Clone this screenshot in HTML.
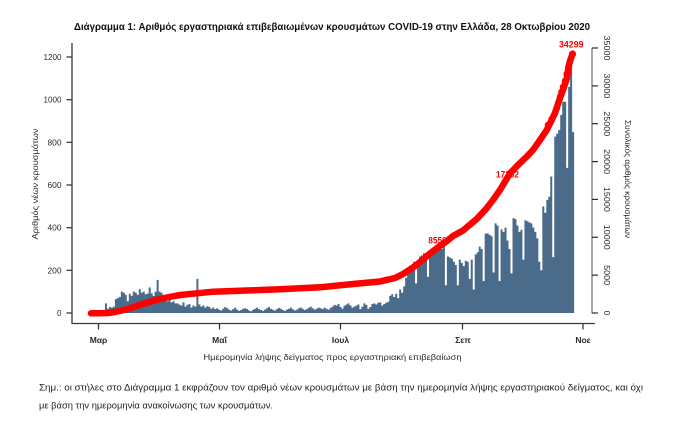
<!DOCTYPE html>
<html>
<head>
<meta charset="utf-8">
<style>
  html, body { margin: 0; padding: 0; background: #ffffff; }
  svg { display: block; }
  text { font-family: "Liberation Sans", "DejaVu Sans", sans-serif; }
</style>
</head>
<body>
<svg width="680" height="434" viewBox="0 0 680 434" xmlns="http://www.w3.org/2000/svg">
  <rect x="0" y="0" width="680" height="434" fill="#ffffff"/>

  <!-- Title -->
  <text x="74" y="30" font-size="10.5" font-weight="bold" fill="#111" textLength="516" lengthAdjust="spacingAndGlyphs">Διάγραμμα 1: Αριθμός εργαστηριακά επιβεβαιωμένων κρουσμάτων COVID-19 στην Ελλάδα, 28 Οκτωβρίου 2020</text>

  <!-- Bars (daily new cases) -->
  <g transform="translate(91.04,313) scale(1.988,-0.21333)">
    <path fill="#4b6b8a" d="M0,0V0H1V0H2V1H3V2H4V0H5V3H6V2H7V45H8V20H9V28H10V25H11V30H12V65H13V70H14V75H15V100H16V95H17V85H18V55H19V90H20V80H21V100H22V95H23V85H24V112H25V95H26V100H27V88H28V91H29V120H30V92H31V80H32V100H33V155H34V100H35V95H36V65H37V60H38V55H39V65H40V50H41V55H42V45H43V45H44V40H45V35H46V50H47V30H48V38H49V42H50V25H51V35H52V30H53V160H54V40H55V30H56V35H57V25H58V32H59V28H60V20H61V25H62V18H63V22H64V15H65V12H66V20H67V28H68V22H69V16H70V12H71V18H72V25H73V15H74V10H75V14H76V20H77V22H78V18H79V12H80V8H81V15H82V20H83V25H84V18H85V14H86V10H87V16H88V22H89V28H90V20H91V15H92V12H93V18H94V24H95V20H96V14H97V10H98V16H99V20H100V25H101V18H102V12H103V15H104V22H105V26H106V20H107V14H108V18H109V24H110V30H111V22H112V16H113V20H114V25H115V22H116V18H117V25H118V20H119V15H120V24H121V30H122V38H123V35H124V42H125V28H126V20H127V34H128V40H129V45H130V36H131V25H132V30H133V35H134V40H135V18H136V30H137V45H138V38H139V20H140V28H141V42H142V45H143V40H144V48H145V50H146V35H147V42H148V48H149V52H150V80H151V88H152V75H153V90H154V70H155V110H156V95H157V125H158V165H159V205H160V215H161V210H162V240H163V139H164V245H165V265H166V270H167V280H168V275H169V170H170V285H171V290H172V280H173V295H174V310H175V325H176V300H177V315H178V130H179V265H180V260H181V255H182V240H183V225H184V130H185V250H186V235H187V220H188V245H189V240H190V160H191V250H192V110H193V275H194V285H195V311H196V300H197V150H198V372H199V373H200V367H201V360H202V190H203V420H204V410H205V150H206V392H207V380H208V400H209V340H210V300H211V186H212V445H213V440H214V410H215V380H216V390H217V250H218V435H219V430H220V425H221V420H222V400H223V380H224V350H225V240H226V200H227V500H228V470H229V530H230V545H231V640H232V262H233V827H234V841H235V858H236V928H237V990H238V990H239V680H240V1060H241V1186H242V848H243V0Z"/>
  </g>

  <!-- Left axis -->
  <g stroke="#3a3a3a" stroke-width="1.3" fill="none">
    <line x1="72" y1="43" x2="72" y2="324"/>
    <line x1="66.5" y1="313" x2="72" y2="313"/>
    <line x1="66.5" y1="270.3" x2="72" y2="270.3"/>
    <line x1="66.5" y1="227.7" x2="72" y2="227.7"/>
    <line x1="66.5" y1="185" x2="72" y2="185"/>
    <line x1="66.5" y1="142.3" x2="72" y2="142.3"/>
    <line x1="66.5" y1="99.7" x2="72" y2="99.7"/>
    <line x1="66.5" y1="57" x2="72" y2="57"/>
  </g>
  <g font-size="8" fill="#2b2b2b" text-anchor="end">
    <text x="61.5" y="316">0</text>
    <text x="61.5" y="273.3" textLength="14" lengthAdjust="spacingAndGlyphs">200</text>
    <text x="61.5" y="230.7" textLength="14" lengthAdjust="spacingAndGlyphs">400</text>
    <text x="61.5" y="188" textLength="14" lengthAdjust="spacingAndGlyphs">600</text>
    <text x="61.5" y="145.3" textLength="14" lengthAdjust="spacingAndGlyphs">800</text>
    <text x="61.5" y="102.7" textLength="18" lengthAdjust="spacingAndGlyphs">1000</text>
    <text x="61.5" y="60" textLength="18" lengthAdjust="spacingAndGlyphs">1200</text>
  </g>
  <text transform="translate(38,184) rotate(-90)" font-size="8.5" fill="#2b2b2b" text-anchor="middle" textLength="111" lengthAdjust="spacingAndGlyphs">Αριθμός νέων κρουσμάτων</text>

  <!-- X axis -->
  <g stroke="#3a3a3a" stroke-width="1.3" fill="none">
    <line x1="71.5" y1="323.5" x2="595" y2="323.5"/>
    <line x1="98.5" y1="323.5" x2="98.5" y2="329.5"/>
    <line x1="219.5" y1="323.5" x2="219.5" y2="329.5"/>
    <line x1="340.5" y1="323.5" x2="340.5" y2="329.5"/>
    <line x1="462.5" y1="323.5" x2="462.5" y2="329.5"/>
    <line x1="583" y1="323.5" x2="583" y2="329.5"/>
  </g>
  <g font-size="8.5" font-weight="bold" fill="#2b2b2b" text-anchor="middle">
    <text x="98.5" y="343">Μαρ</text>
    <text x="219.5" y="343">Μαΐ</text>
    <text x="340.5" y="343">Ιουλ</text>
    <text x="463" y="343">Σεπ</text>
    <text x="583" y="343">Νοε</text>
  </g>
  <text x="332.5" y="360" font-size="8.5" fill="#2b2b2b" text-anchor="middle" textLength="258" lengthAdjust="spacingAndGlyphs">Ημερομηνία λήψης δείγματος προς εργαστηριακή επιβεβαίωση</text>

  <!-- Right axis -->
  <line x1="592" y1="48" x2="592" y2="313.5" stroke="#8a8a8a" stroke-width="1.5"/>
  <g stroke="#2b2b2b" stroke-width="1.2">
    <line x1="592" y1="313" x2="598" y2="313"/>
    <line x1="592" y1="275.1" x2="598" y2="275.1"/>
    <line x1="592" y1="237.3" x2="598" y2="237.3"/>
    <line x1="592" y1="199.4" x2="598" y2="199.4"/>
    <line x1="592" y1="161.6" x2="598" y2="161.6"/>
    <line x1="592" y1="123.7" x2="598" y2="123.7"/>
    <line x1="592" y1="85.9" x2="598" y2="85.9"/>
    <line x1="592" y1="48" x2="598" y2="48"/>
  </g>
  <g font-size="8.5" fill="#2b2b2b" text-anchor="middle">
    <text transform="translate(604,313) rotate(90)">0</text>
    <text transform="translate(604,275.1) rotate(90)" textLength="20" lengthAdjust="spacingAndGlyphs">5000</text>
    <text transform="translate(604,237.3) rotate(90)" textLength="25" lengthAdjust="spacingAndGlyphs">10000</text>
    <text transform="translate(604,199.4) rotate(90)" textLength="25" lengthAdjust="spacingAndGlyphs">15000</text>
    <text transform="translate(604,161.6) rotate(90)" textLength="25" lengthAdjust="spacingAndGlyphs">20000</text>
    <text transform="translate(604,123.7) rotate(90)" textLength="25" lengthAdjust="spacingAndGlyphs">25000</text>
    <text transform="translate(604,85.9) rotate(90)" textLength="25" lengthAdjust="spacingAndGlyphs">30000</text>
    <text transform="translate(604,48) rotate(90)" textLength="25" lengthAdjust="spacingAndGlyphs">35000</text>
  </g>
  <text transform="translate(625,179) rotate(90)" font-size="8.5" fill="#2b2b2b" text-anchor="middle" textLength="118" lengthAdjust="spacingAndGlyphs">Συνολικός αριθμός κρουσμάτων</text>

  <!-- Cumulative labels -->
  <g font-size="9" font-weight="bold" fill="#ff0000">
    <text x="428.3" y="243.5" textLength="18.5" lengthAdjust="spacingAndGlyphs">8559</text>
    <text x="496" y="177.5" textLength="23" lengthAdjust="spacingAndGlyphs">17262</text>
    <text x="559" y="47.5" textLength="24.5" lengthAdjust="spacingAndGlyphs">34299</text>
  </g>

  <!-- Cumulative line -->
  <polyline fill="none" stroke="#ff0000" stroke-width="6.5" stroke-linecap="round" stroke-linejoin="round"
    points="91,313.3 100,313.3 108,313 113,312.3 122,310.5 130,308.3 138,305.5 146.7,302.7 155,300.3 163,298.3 172,296.5 180,295 196.7,293.3 213,291.7 246.7,290.5 280,289.3 320,287.3 353,284 380,281.5 395,278 403,274 413,267.5 420,262 430,253.5 437,248 447,241 453,236 463,230.5 476.7,219 486,209 493,200 500,190 510,173.3 518,165 526.7,156.7 533,150 540,140 546.7,130 551.7,120 555,113 558.3,103 560.7,96 563.3,89 566.7,79 568.5,67 570,61 572.5,54"/>
  <g fill="#ff0000">
    <circle cx="548" cy="125" r="3.3"/>
    <circle cx="551.7" cy="119" r="3.3"/>
    <circle cx="555" cy="113" r="3.3"/>
    <circle cx="556.7" cy="108.3" r="3.3"/>
    <circle cx="558.3" cy="103" r="3.3"/>
    <circle cx="560" cy="97" r="3.3"/>
    <circle cx="561.5" cy="92" r="3.3"/>
    <circle cx="563" cy="87" r="3.3"/>
    <circle cx="565" cy="81" r="3.3"/>
    <circle cx="566.7" cy="74" r="3.3"/>
    <circle cx="568.5" cy="67" r="3.3"/>
    <circle cx="570" cy="61.5" r="3.3"/>
    <circle cx="572.5" cy="54" r="3.6"/>
  </g>

  <!-- Note -->
  <text x="39" y="390.5" font-size="9.5" fill="#222" textLength="604" lengthAdjust="spacingAndGlyphs">Σημ.: οι στήλες στο Διάγραμμα 1 εκφράζουν τον αριθμό νέων κρουσμάτων με βάση την ημερομηνία λήψης εργαστηριακού δείγματος, και όχι</text>
  <text x="39" y="408.5" font-size="9.5" fill="#222" textLength="234" lengthAdjust="spacingAndGlyphs">με βάση την ημερομηνία ανακοίνωσης των κρουσμάτων.</text>
</svg>
</body>
</html>
